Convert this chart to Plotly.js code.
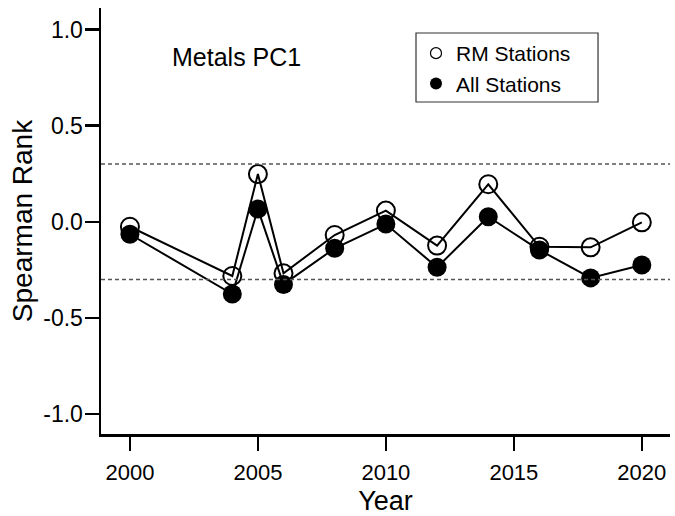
<!DOCTYPE html>
<html>
<head>
<meta charset="utf-8">
<script src="https://cdn.plot.ly/plotly-3.0.1.min.js"></script>
<style>html,body{margin:0;padding:0;background:#fff;}#chart{width:675px;height:516px;}</style>
</head>
<body>
<div id="chart"></div>
<script>
const years = [2000, 2004, 2005, 2006, 2008, 2010, 2012, 2014, 2016, 2018, 2020];
const rmStations = [-0.026, -0.282, 0.248, -0.268, -0.069, 0.058, -0.124, 0.195, -0.130, -0.133, -0.003];
const allStations = [-0.065, -0.376, 0.066, -0.326, -0.138, -0.012, -0.237, 0.026, -0.147, -0.292, -0.225];
const refLines = [0.3, -0.3];
const xTickVals = [2000, 2005, 2010, 2015, 2020];
const xTickText = ['2000', '2005', '2010', '2015', '2020'];
const yTickVals = [-1, -0.5, 0, 0.5, 1];
const yTickText = ['-1.0', '-0.5', '0.0', '0.5', '1.0'];
const seriesNames = ['RM Stations', 'All Stations'];

const FONT = 'Arial, "Liberation Sans", sans-serif';

const traces = [
  {x: years, y: rmStations, mode: 'lines+markers', type: 'scatter', showlegend: false,
   line: {color: '#000', width: 2},
   marker: {symbol: 'circle-open', size: 18, color: '#000', line: {width: 2, color: '#000'}}},
  {x: years, y: allStations, mode: 'lines+markers', type: 'scatter', showlegend: false,
   line: {color: '#000', width: 2},
   marker: {symbol: 'circle', size: 19, color: '#000'}},
  {x: [null], y: [null], mode: 'markers', type: 'scatter', name: seriesNames[0],
   marker: {symbol: 'circle-open', size: 11, color: '#000', line: {width: 1.2, color: '#000'}}},
  {x: [null], y: [null], mode: 'markers', type: 'scatter', name: seriesNames[1],
   marker: {symbol: 'circle', size: 12, color: '#000'}}
];

const shapes = refLines.map(v => ({
  type: 'line', xref: 'paper', x0: 0, x1: 1, yref: 'y', y0: v, y1: v,
  line: {color: '#555', width: 1.5, dash: '4px,3px'}
}));
// legend frame
shapes.push({type: 'rect', xref: 'paper', yref: 'paper', x0: 0.5536, x1: 0.8735, y0: 0.7793, y1: 0.9413,
  layer: 'above', fillcolor: 'rgba(0,0,0,0)', line: {color: '#333', width: 1.2}});

const layout = {
  width: 675, height: 516,
  margin: {l: 101, r: 5, t: 8, b: 82},
  paper_bgcolor: '#fff', plot_bgcolor: '#fff',
  font: {family: FONT, color: '#000', size: 23},
  showlegend: true,
  legend: {x: 0.5536, y: 0.9413, xanchor: 'left', yanchor: 'top',
    bgcolor: 'rgba(0,0,0,0)', borderwidth: 0,
    font: {family: FONT, size: 21, color: '#000'}, tracegroupgap: 0},
  xaxis: {range: [1998.87, 2021.1], tickvals: xTickVals, ticktext: xTickText,
    showline: true, linecolor: '#000', linewidth: 2.5, ticks: 'outside', ticklen: 14, tickwidth: 2.5,
    tickcolor: '#000', showgrid: false, zeroline: false, ticklabelstandoff: 3,
    tickfont: {family: FONT, size: 22}, automargin: false,
    title: {text: 'Year', font: {family: FONT, size: 27}, standoff: 20}},
  yaxis: {range: [-1.104, 1.112], tickvals: yTickVals, ticktext: yTickText,
    showline: true, linecolor: '#000', linewidth: 2.5, ticks: 'outside', ticklen: 14, tickwidth: 2.5,
    tickcolor: '#000', showgrid: false, zeroline: false, ticklabelstandoff: -3,
    tickfont: {family: FONT, size: 23}, automargin: false,
    title: {text: 'Spearman Rank', font: {family: FONT, size: 28}, standoff: 3}},
  shapes: shapes,
  annotations: [{text: 'Metals PC1', xref: 'paper', yref: 'paper', x: 0.121, y: 0.884,
    xanchor: 'left', yanchor: 'middle', showarrow: false, font: {family: FONT, size: 25, color: '#000'}}]
};

Plotly.newPlot('chart', traces, layout, {displayModeBar: false, staticPlot: true});
</script>
</body>
</html>
